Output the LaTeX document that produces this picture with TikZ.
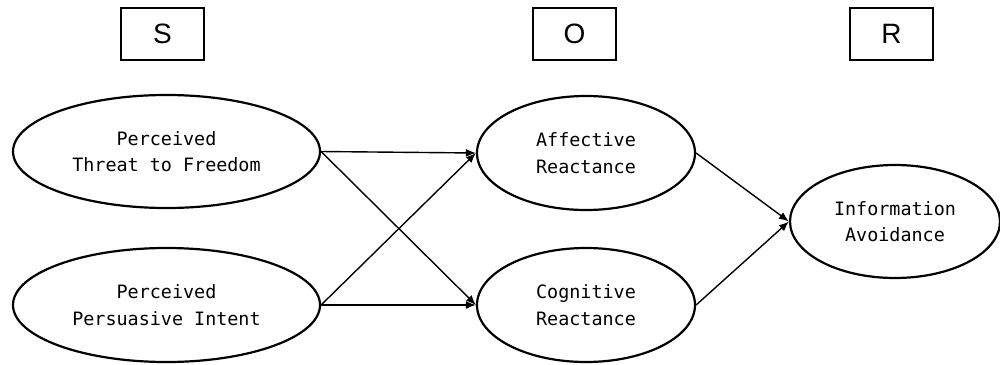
\documentclass[tikz,border=0pt]{standalone}
\usepackage{fontspec}
\setmainfont{Liberation Sans}
\setmonofont{DejaVu Sans Mono}
\usetikzlibrary{shapes.geometric,arrows.meta}
\begin{document}
\begin{tikzpicture}[x=0.5pt,y=-0.5pt,
  sorbox/.style={draw, line width=0.6pt, minimum width=41.5pt, minimum height=26pt, inner sep=0pt, font=\fontsize{14}{16}\selectfont},
  construct/.style={draw, ellipse, line width=1.1pt, inner sep=0pt, align=center, font=\ttfamily\fontsize{9.2}{13.3}\selectfont},
  link/.style={line width=0.7pt, -{Latex[length=5pt,width=4pt]}}]
\useasboundingbox (0,0) rectangle (1000,364);
\node[sorbox] (S) at (162.5,34) {S};
\node[sorbox] (O) at (574.5,34) {O};
\node[sorbox] (R) at (891.5,34) {R};
\node[construct, minimum width=153.5pt, minimum height=56.5pt] (T) at (166.5,151.5) {Perceived\\Threat to Freedom};
\node[construct, minimum width=153.5pt, minimum height=57pt] (P) at (166.5,305) {Perceived\\Persuasive Intent};
\node[construct, minimum width=109pt, minimum height=57pt] (A) at (586,153) {Affective\\Reactance};
\node[construct, minimum width=109pt, minimum height=57pt] (C) at (586,305) {Cognitive\\Reactance};
\node[construct, minimum width=105pt, minimum height=56.5pt] (I) at (895,221.5) {Information\\Avoidance};
\draw[link] (T.east) -- (A.west);
\draw[link] (T.east) -- (C.west);
\draw[link] (P.east) -- (A.west);
\draw[link] (P.east) -- (C.west);
\draw[link] (A.east) -- (I.west);
\draw[link] (C.east) -- (I.west);
\end{tikzpicture}
\end{document}
